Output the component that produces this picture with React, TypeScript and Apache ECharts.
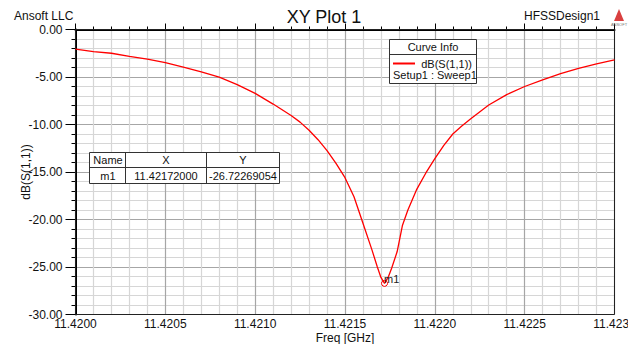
import React, { useEffect, useRef } from "react";
import * as echarts from "echarts";

const freqGHz = [
  11.42, 11.4201, 11.4202, 11.4203, 11.4204, 11.4205, 11.4206, 11.4207, 11.4208, 11.4209,
  11.421, 11.4211, 11.4212, 11.42125, 11.4213, 11.42135, 11.4214, 11.42145, 11.4215, 11.42155,
  11.4216, 11.42165, 11.42168, 11.4217, 11.42172, 11.42174, 11.42176, 11.42179, 11.42182, 11.42185,
  11.4219, 11.42195, 11.422, 11.42205, 11.4221, 11.42215, 11.4222, 11.4223, 11.4224, 11.4225,
  11.4226, 11.4227, 11.4228, 11.4229, 11.423,
];
const s11dB = [
  -2.07, -2.32, -2.5, -2.82, -3.12, -3.48, -3.95, -4.45, -5.02, -5.8,
  -6.72, -7.85, -9.05, -9.75, -10.6, -11.6, -12.75, -14.1, -15.6, -17.6,
  -20.4, -23.2, -25.0, -26.1, -26.72269054, -26.1, -25.1, -23.4, -20.6, -19.0,
  -16.8, -15.1, -13.6, -12.2, -11.0, -10.15, -9.4, -7.95, -6.85, -6.0,
  -5.3, -4.65, -4.1, -3.62, -3.19,
];
const markerName = "m1";
const markerX = 11.42172;
const markerY = -26.72269054;
const markerXText = "11.42172000";
const markerYText = "-26.72269054";
const curveName = "dB(S(1,1))";
const setupName = "Setup1 : Sweep1";

const FONT = "'Liberation Sans', Arial, Helvetica, sans-serif";

export default function App() {
  const ref = useRef<HTMLDivElement>(null);
  useEffect(() => {
    if (!ref.current) return;
    const chart = echarts.init(ref.current, null, { renderer: "svg" });
    const data = freqGHz.map((f, i) => [f, s11dB[i]]);
    const txt = (x: number, y: number, text: string, size: number, align: string, extra: any = {}) => ({
      type: "text",
      x,
      y,
      silent: true,
      z: 10,
      style: {
        text,
        fontSize: size,
        fontFamily: FONT,
        fill: "#111",
        textAlign: align,
        textVerticalAlign: "middle",
        ...extra,
      },
    });
    const ln = (x1: number, y1: number, x2: number, y2: number, color = "#444", w = 1) => ({
      type: "line",
      silent: true,
      z: 10,
      shape: { x1, y1, x2, y2 },
      style: { stroke: color, lineWidth: w },
    });
    const major = { show: true, lineStyle: { color: "#a6a6a6", width: 1.2 } };
    const minor = { show: true, lineStyle: { color: "#d6d6d6", width: 1.2 } };
    chart.setOption({
      animation: false,
      backgroundColor: "#ffffff",
      textStyle: { fontFamily: FONT },
      grid: {
        left: 75.5,
        top: 29.5,
        width: 539,
        height: 285,
        show: false,
        outerBoundsMode: "none",
        containLabel: false,
      },
      xAxis: {
        type: "value",
        min: 11.42,
        max: 11.423,
        interval: 0.0005,
        name: "Freq [GHz]",
        nameLocation: "middle",
        nameGap: 17,
        nameMoveOverlap: false,
        nameTextStyle: { fontSize: 12, color: "#111", fontFamily: FONT },
        axisLine: { show: true, lineStyle: { color: "#000", width: 2 } },
        axisTick: { show: true, inside: true, length: 6, lineStyle: { color: "#000", width: 1 } },
        minorTick: { show: true, splitNumber: 5, length: 3, lineStyle: { color: "#000", width: 1 } },
        axisLabel: {
          fontSize: 12,
          color: "#111",
          margin: 3,
          fontFamily: FONT,
          hideOverlap: false,
          formatter: (v: number) => v.toFixed(4),
        },
        splitLine: major,
        minorSplitLine: minor,
      },
      yAxis: {
        type: "value",
        min: -30,
        max: 0,
        interval: 5,
        name: "dB(S(1,1))",
        nameLocation: "middle",
        nameGap: 44,
        nameMoveOverlap: false,
        nameTextStyle: { fontSize: 12, color: "#111", fontFamily: FONT },
        axisLine: { show: true, lineStyle: { color: "#000", width: 2 } },
        axisTick: { show: true, inside: false, length: 10, lineStyle: { color: "#000", width: 1 } },
        minorTick: { show: true, splitNumber: 5, length: 4, lineStyle: { color: "#000", width: 1 } },
        axisLabel: {
          fontSize: 12,
          color: "#111",
          margin: 13,
          fontFamily: FONT,
          formatter: (v: number) => v.toFixed(2),
        },
        splitLine: major,
        minorSplitLine: minor,
      },
      series: [
        {
          type: "line",
          name: curveName,
          data,
          showSymbol: false,
          symbol: "none",
          z: 3,
          lineStyle: { color: "#ff0000", width: 1.3 },
          markPoint: {
            symbol: "circle",
            symbolSize: 6,
            itemStyle: { color: "rgba(0,0,0,0)", borderColor: "#ff0000", borderWidth: 1 },
            label: {
              show: true,
              formatter: markerName,
              position: "right",
              distance: 0,
              offset: [-4, -4],
              fontSize: 11,
              color: "#222",
              fontFamily: FONT,
            },
            data: [{ coord: [markerX, markerY], name: markerName }],
          },
        },
      ],
      graphic: [
        {
          type: "rect",
          silent: true,
          z: 1,
          shape: { x: 75.5, y: 29.5, width: 539, height: 285 },
          style: { fill: "none", stroke: "#222", lineWidth: 1 },
        },
        txt(14, 16, "Ansoft LLC", 12, "left"),
        txt(324, 17, "XY Plot 1", 18, "center"),
        txt(600, 16, "HFSSDesign1", 12, "right"),
        {
          type: "polygon",
          silent: true,
          shape: { points: [[619, 9], [614, 21], [624, 21]] },
          style: { fill: "#d94040" },
        },
        txt(619, 24, "ANSOFT", 4, "center", { fill: "#777" }),
        {
          type: "rect",
          silent: true,
          z: 9,
          shape: { x: 389.5, y: 39.5, width: 87, height: 44 },
          style: { fill: "#fff", stroke: "#333", lineWidth: 1 },
        },
        ln(389.5, 54.5, 476.5, 54.5, "#333"),
        txt(433, 47, "Curve Info", 11, "center"),
        ln(393, 63.5, 415, 63.5, "#ff0000", 2),
        txt(472, 64, curveName, 11, "right"),
        txt(393, 75, setupName, 11, "left"),
        {
          type: "rect",
          silent: true,
          z: 9,
          shape: { x: 89.5, y: 152.5, width: 190, height: 31 },
          style: { fill: "#fff", stroke: "#333", lineWidth: 1 },
        },
        ln(89.5, 167.5, 279.5, 167.5, "#333"),
        ln(125.5, 152.5, 125.5, 183.5, "#333"),
        ln(206.5, 152.5, 206.5, 183.5, "#333"),
        txt(108, 160, "Name", 11, "center"),
        txt(166, 160, "X", 11, "center"),
        txt(243, 160, "Y", 11, "center"),
        txt(108, 175.5, markerName, 11, "center"),
        txt(166, 175.5, markerXText, 11, "center"),
        txt(243, 175.5, markerYText, 11, "center"),
      ],
    });
    return () => chart.dispose();
  }, []);
  return (
    <div
      ref={ref}
      style={{ position: "fixed", left: 0, top: 0, width: 628, height: 344, background: "#fff" }}
    />
  );
}
